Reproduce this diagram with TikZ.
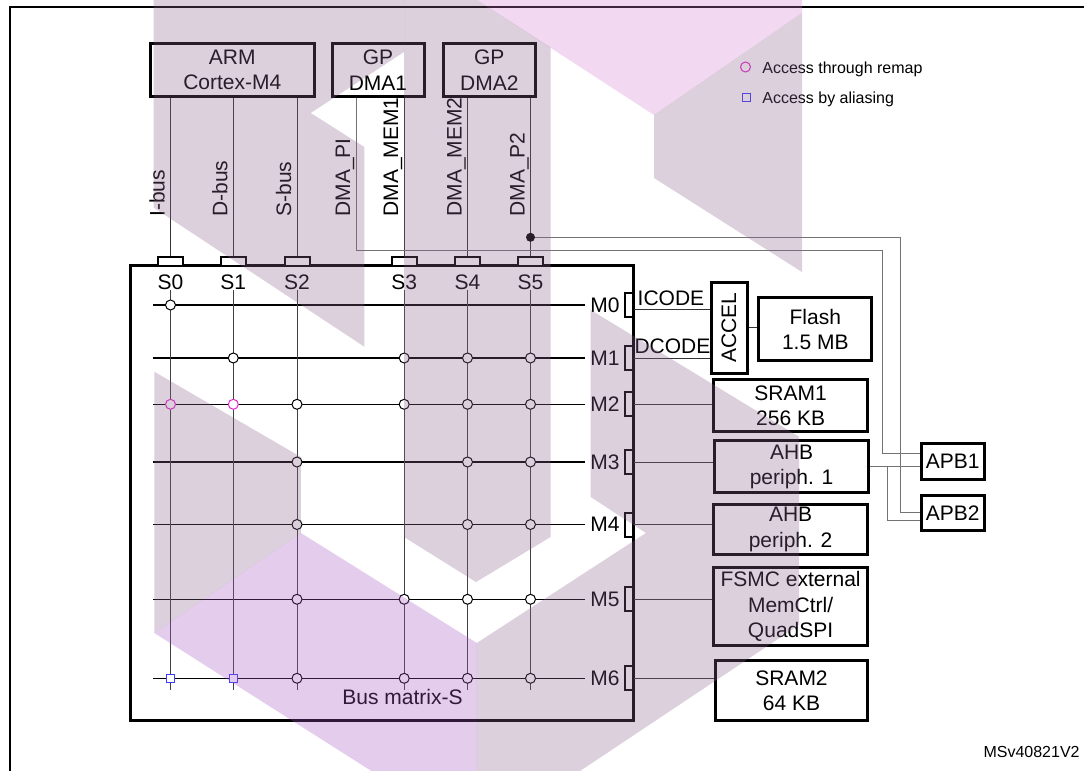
\documentclass[tikz,border=0pt]{standalone}
\usepackage{fontspec}
\setmainfont{Liberation Sans}
\usetikzlibrary{calc}

\newcommand{\mainfs}{\fontsize{10.5}{12.8}\selectfont}
\newcommand{\smallfs}{\fontsize{8}{9.6}\selectfont}

\definecolor{remapcol}{RGB}{228,40,200}
\definecolor{aliascol}{RGB}{60,60,255}
\definecolor{wmgrey}{RGB}{138,98,142}
\definecolor{wmlav}{RGB}{165,85,192}
\definecolor{wmpink}{RGB}{212,125,205}

\begin{document}
\begin{tikzpicture}[x=0.5pt,y=-0.5pt,
	blk/.style={draw, line width=1.5pt, inner sep=0pt, align=center, font=\mainfs},
	sport/.style={draw, fill=white, line width=1pt, minimum width=12.5pt, minimum height=4.2pt, inner sep=0pt},
	mport/.style={draw, fill=white, line width=1pt, minimum width=4pt, minimum height=12pt, inner sep=0pt},
	wire/.style={line width=0.5pt, black!80},
	apbwire/.style={line width=0.5pt, black!55},
	rowline/.style={line width=0.6pt},
	colline/.style={line width=0.5pt, black!75},
	sw/.style={circle, draw, fill=white, line width=0.5pt, minimum size=5pt, inner sep=0pt},
	swremap/.style={sw, draw=remapcol},
	swalias/.style={draw=aliascol, fill=white, line width=0.5pt, minimum size=4pt, inner sep=0pt},
	txt/.style={font=\mainfs, inner sep=0pt},
	vlabel/.style={txt, rotate=90, anchor=base west}]
	\useasboundingbox (0,0) rectangle (1084,771);
	\draw[line width=1pt] (9.6,771) -- (9.6,6.7) -- (1084,6.7);

	% masters
	\node[blk, minimum width=81.8pt, minimum height=26.3pt] (arm) at (232.3,70) {ARM\\Cortex-M4};
	\node[blk, minimum width=46pt, minimum height=26.3pt] (dma1) at (378,70) {GP\\DMA1};
	\node[blk, minimum width=46.25pt, minimum height=26.3pt] (dma2) at (489.3,70) {GP\\DMA2};

	% bus matrix
	\node[draw, line width=1.5pt, minimum width=251.4pt, minimum height=227.15pt, inner sep=0pt] (bm) at (381.8,492.85) {};
	\node[txt] (bmlab) at (402.5,696.7) {Bus matrix-S};

	\foreach \j/\y in {0/305,1/358,2/404.3,3/462,4/524.5,5/599.3,6/678.3}{
		\draw[rowline] (153,\y) -- (585,\y);
		\node[mport] (mp\j) at (629,\y) {};
		\node[txt, anchor=east] (ml\j) at (620,\y) {M\j};
	}
	\foreach \i/\x in {0/170.5,1/233.3,2/297,3/404.2,4/467.5,5/530.5}{
		\draw[colline] (\x,290) -- (\x,690);
		\node[sport] (sp\i) at (\x,261.5) {};
		\node[txt] (sl\i) at (\x,282.3) {S\i};
	}

	% switches
	\foreach \s/\m in {0/0,1/1,3/1,4/1,5/1,2/2,3/2,4/2,5/2,2/3,4/3,5/3,2/4,4/4,5/4,
		2/5,3/5,4/5,5/5,2/6,3/6,4/6,5/6}
		\node[sw] (x\s\m) at (sp\s |- mp\m) {};
	\node[swremap] (x02) at (sp0 |- mp2) {};
	\node[swremap] (x12) at (sp1 |- mp2) {};
	\node[swalias] (x06) at (sp0 |- mp6) {};
	\node[swalias] (x16) at (sp1 |- mp6) {};

	% buses down to the slave ports
	\draw[wire] (sp0.north) -- (sp0.north |- arm.south);
	\draw[wire] (sp1.north) -- (sp1.north |- arm.south);
	\draw[wire] (sp2.north) -- (sp2.north |- arm.south);
	\draw[wire] (sp3.north) -- (sp3.north |- dma1.south);
	\draw[wire] (sp4.north) -- (sp4.north |- dma2.south);
	\draw[wire] (sp5.north) -- (sp5.north |- dma2.south);
	\node[vlabel] (libus) at (164.5,217) {I-bus};
	\node[vlabel] (ldbus) at (227.3,217) {D-bus};
	\node[vlabel] (lsbus) at (291,217) {S-bus};
	\node[vlabel] (lpi) at (350,217) {DMA\_PI};
	\node[vlabel] (lmem1) at (398.2,217) {DMA\_MEM1};
	\node[vlabel] (lmem2) at (461.5,217) {DMA\_MEM2};
	\node[vlabel] (lp2) at (524.5,217) {DMA\_P2};

	% slaves
	\node[blk, minimum width=18pt, minimum height=45.65pt] (accel) at (729,327.7) {};
	\node[txt, rotate=90] (acceltxt) at (accel.center) {ACCEL};
	\node[blk, minimum width=56.45pt, minimum height=31.65pt] (flash) at (815.3,329.3) {Flash\\1.5 MB};
	\node[blk, minimum width=76.9pt, minimum height=25.85pt] (sram1) at (790.6,405.8) {SRAM1\\256 KB};
	\node[blk, minimum width=76.9pt, minimum height=25.85pt] (ahb1) at (791.6,466.8) {AHB\\periph. 1};
	\node[blk, minimum width=76.9pt, minimum height=25.15pt] (ahb2) at (790.6,529.2) {AHB\\periph. 2};
	\node[blk, minimum width=76.9pt, minimum height=39pt] (fsmc) at (790.6,606.7) {FSMC external\\MemCtrl/\\QuadSPI};
	\node[blk, minimum width=76pt, minimum height=30pt] (sram2) at (791.5,690.7) {SRAM2\\64 KB};
	\node[blk, minimum width=31.75pt, minimum height=18pt] (apb1) at (952.8,461.3) {APB1};
	\node[blk, minimum width=31.75pt, minimum height=17.85pt] (apb2) at (952.8,512.9) {APB2};

	\draw[wire] ([yshift=-2pt]mp0.east) -- ([yshift=-2pt]mp0.east -| accel.west);
	\node[txt] (icode) at (671,298.3) {ICODE};
	\draw[wire] (mp1.east) -- (mp1.east -| accel.west);
	\node[txt] (dcode) at (672.5,346.7) {DCODE};
	\draw[wire] (accel.east) -- (accel.east -| flash.west);
	\draw[wire] (mp2.east) -- (mp2.east -| sram1.west);
	\draw[wire] (mp3.east) -- (mp3.east -| ahb1.west);
	\draw[wire] (mp4.east) -- (mp4.east -| ahb2.west);
	\draw[wire] (mp5.east) -- (mp5.east -| fsmc.west);
	\draw[wire] (mp6.east) -- (mp6.east -| sram2.west);

	% peripheral buses
	\coordinate (pix) at (356,250);
	\coordinate (piturn) at (882.5,250);
	\draw[apbwire] (dma1.south -| pix) -- (pix) -- (piturn) |- ([yshift=4.15pt]apb1.west);
	\coordinate (jn) at (530.5,237.3);
	\coordinate (p2turn) at (900.7,237.3);
	\draw[apbwire] (jn) -- (p2turn) |- (apb2.west);
	\fill (jn) circle (4.5);
	\draw[apbwire] (ahb1.east) -- (ahb1.east -| apb1.west);
	\coordinate (tap) at ($(ahb1.east)+(17.5,0)$);
	\draw[apbwire] (tap) |- ([yshift=-3.55pt]apb2.west);

	% legend
	\node[swremap] (lgremap) at (745.5,67) {};
	\node[font=\smallfs, inner sep=0pt, anchor=base west] (lgremaptxt) at (762,73.3) {Access through remap};
	\node[swalias] (lgalias) at (746.5,97.5) {};
	\node[font=\smallfs, inner sep=0pt, anchor=base west] (lgaliastxt) at (762,103.3) {Access by aliasing};
	\node[font=\smallfs, inner sep=0pt, anchor=east] (msv) at (1080,752.3) {MSv40821V2};

	% watermark
	\begin{scope}[fill opacity=0.3]
		\fill[wmgrey] (153.5,0) -- (404,0) -- (404,52) -- (310.7,113) -- (364.3,147)
			-- (364.3,346.7) -- (153.5,207.5) -- cycle;
		\fill[wmgrey] (404,0) -- (477,0) -- (550.6,47.4) -- (550.6,537) -- (476,582) -- (404,537) -- cycle;
		\fill[wmpink] (477,0) -- (802,0) -- (802,13) -- (654,115) -- cycle;
		\fill[wmgrey] (654,115) -- (802,13) -- (802,272) -- (654,178) -- cycle;
		\fill[wmgrey] (154.3,371.7) -- (300.9,457) -- (300.9,533) -- (154.3,633) -- cycle;
		\fill[wmlav] (154.3,633) -- (300.9,533) -- (476.8,643) -- (476.8,771) -- (371.4,771) -- cycle;
		\fill[wmgrey] (590.7,310) -- (799,436.7) -- (799,625) -- (580,771) -- (476.8,771)
			-- (476.8,643) -- (646,533) -- (590.7,497) -- cycle;
	\end{scope}
\end{tikzpicture}
\end{document}
